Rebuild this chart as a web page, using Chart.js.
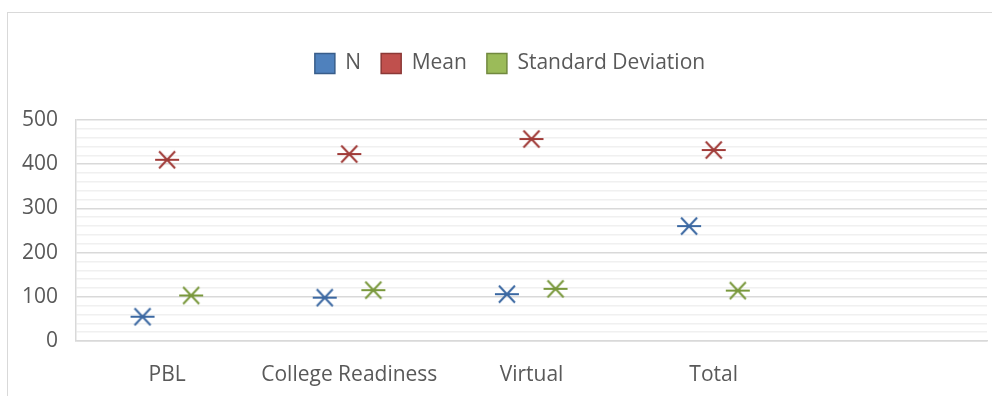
<!DOCTYPE html>
<html>
<head>
<meta charset="utf-8">
<script src="https://cdn.jsdelivr.net/npm/chart.js@4.4.1/dist/chart.umd.min.js"></script>
<style>
  html, body { margin: 0; padding: 0; background: #fff; overflow: hidden; }
  #wrap { position: relative; width: 1020px; height: 396px; }
  #frame { position: absolute; left: 7px; top: 12px; width: 1100px; height: 500px; border: 1px solid #d9d9d9; box-sizing: border-box; }
  canvas { position: absolute; left: 0; top: 0; }
</style>
</head>
<body>
<div id="wrap">
  <div id="frame"></div>
  <canvas id="myChart" width="1020" height="396"></canvas>
</div>
<script>
const categories = ['PBL', 'College Readiness', 'Virtual', 'Total']
const slots = 5
const nValues = [55, 98, 106, 260]
const meanValues = [410, 423, 457, 432]
const sdValues = [103, 115, 118, 114]
const yTicks = [0, 100, 200, 300, 400, 500]

const font = 'Open Sans'
const textColor = '#595959'

// asterisk marker: horizontal bar plus two diagonals
function marker(color) {
    const c = document.createElement('canvas')
    c.width = 26
    c.height = 22
    const g = c.getContext('2d')
    g.strokeStyle = color
    g.lineWidth = 2
    g.beginPath()
    g.moveTo(1, 11); g.lineTo(25, 11)
    g.moveTo(5, 2.5); g.lineTo(21, 19.5)
    g.moveTo(21, 2.5); g.lineTo(5, 19.5)
    g.stroke()
    return c
}

// each series sits a little left/right of the category centre
function points(values, shift) {
    return values.map((v, i) => ({ x: i + 0.5 + shift, y: v }))
}

// extra room under the legend, and centre it on the whole frame
const legendGap = {
    id: 'legendGap',
    beforeInit(chart) {
        const fit = chart.legend.fit
        chart.legend.fit = function () {
            fit.call(this)
            this.height += 36
        }
    },
    afterLayout(chart) {
        chart.legend.left += 33
    }
}

const data = {
    datasets: [{
        label: 'N',
        data: points(nValues, -0.135),
        showLine: false,
        backgroundColor: '#4f81bd',
        borderColor: '#385d8a',
        borderWidth: 1.5,
        pointStyle: marker('#3b68a2'),
        pointRadius: 12,
        pointHoverRadius: 12
    }, {
        label: 'Mean',
        data: points(meanValues, 0),
        showLine: false,
        backgroundColor: '#c0504d',
        borderColor: '#8c3836',
        borderWidth: 1.5,
        pointStyle: marker('#a03b38'),
        pointRadius: 12,
        pointHoverRadius: 12
    }, {
        label: 'Standard Deviation',
        data: points(sdValues, 0.132),
        showLine: false,
        backgroundColor: '#9bbb59',
        borderColor: '#71893f',
        borderWidth: 1.5,
        pointStyle: marker('#79983c'),
        pointRadius: 12,
        pointHoverRadius: 12
    }]
}

const config = {
    type: 'scatter',
    data: data,
    plugins: [legendGap],
    options: {
        responsive: false,
        animation: false,
        events: [],
        layout: { padding: { left: 0, right: 33, top: 33, bottom: 0 } },
        plugins: {
            tooltip: { enabled: false },
            legend: {
                position: 'top',
                labels: {
                    boxWidth: 20,
                    boxHeight: 20,
                    padding: 20,
                    color: textColor,
                    font: { family: font, size: 21 }
                }
            }
        },
        scales: {
            x: {
                type: 'linear',
                min: 0,
                max: slots,
                afterBuildTicks: (s) => { s.ticks = categories.map((c, i) => ({ value: i + 0.5 })) },
                afterFit: (s) => { s.height = 55 },
                ticks: {
                    autoSkip: false,
                    maxRotation: 0,
                    padding: 13,
                    color: textColor,
                    font: { family: font, size: 21 },
                    callback: (v) => categories[Math.floor(v)]
                },
                grid: { display: false },
                border: { display: true, color: '#d9d9d9', width: 1.5 }
            },
            y: {
                min: 0,
                max: 500,
                afterFit: (s) => { s.width = 76 },
                // minor lines every 20, labels only on the hundreds
                afterBuildTicks: (s) => {
                    const t = []
                    for (let v = 0; v <= 500; v += 20) t.push({ value: v })
                    s.ticks = t
                },
                ticks: {
                    autoSkip: false,
                    padding: 18,
                    color: textColor,
                    font: { family: font, size: 21 },
                    callback: (v) => yTicks.includes(v) ? v : ''
                },
                grid: {
                    drawTicks: false,
                    color: (c) => c.tick && c.tick.value % 100 === 0 ? '#d9d9d9' : '#f0f0f0',
                    lineWidth: 1.5
                },
                border: { display: true, color: '#d9d9d9', width: 1.5 }
            }
        }
    }
}

const chart = new Chart(document.getElementById('myChart'), config)
</script>
</body>
</html>
